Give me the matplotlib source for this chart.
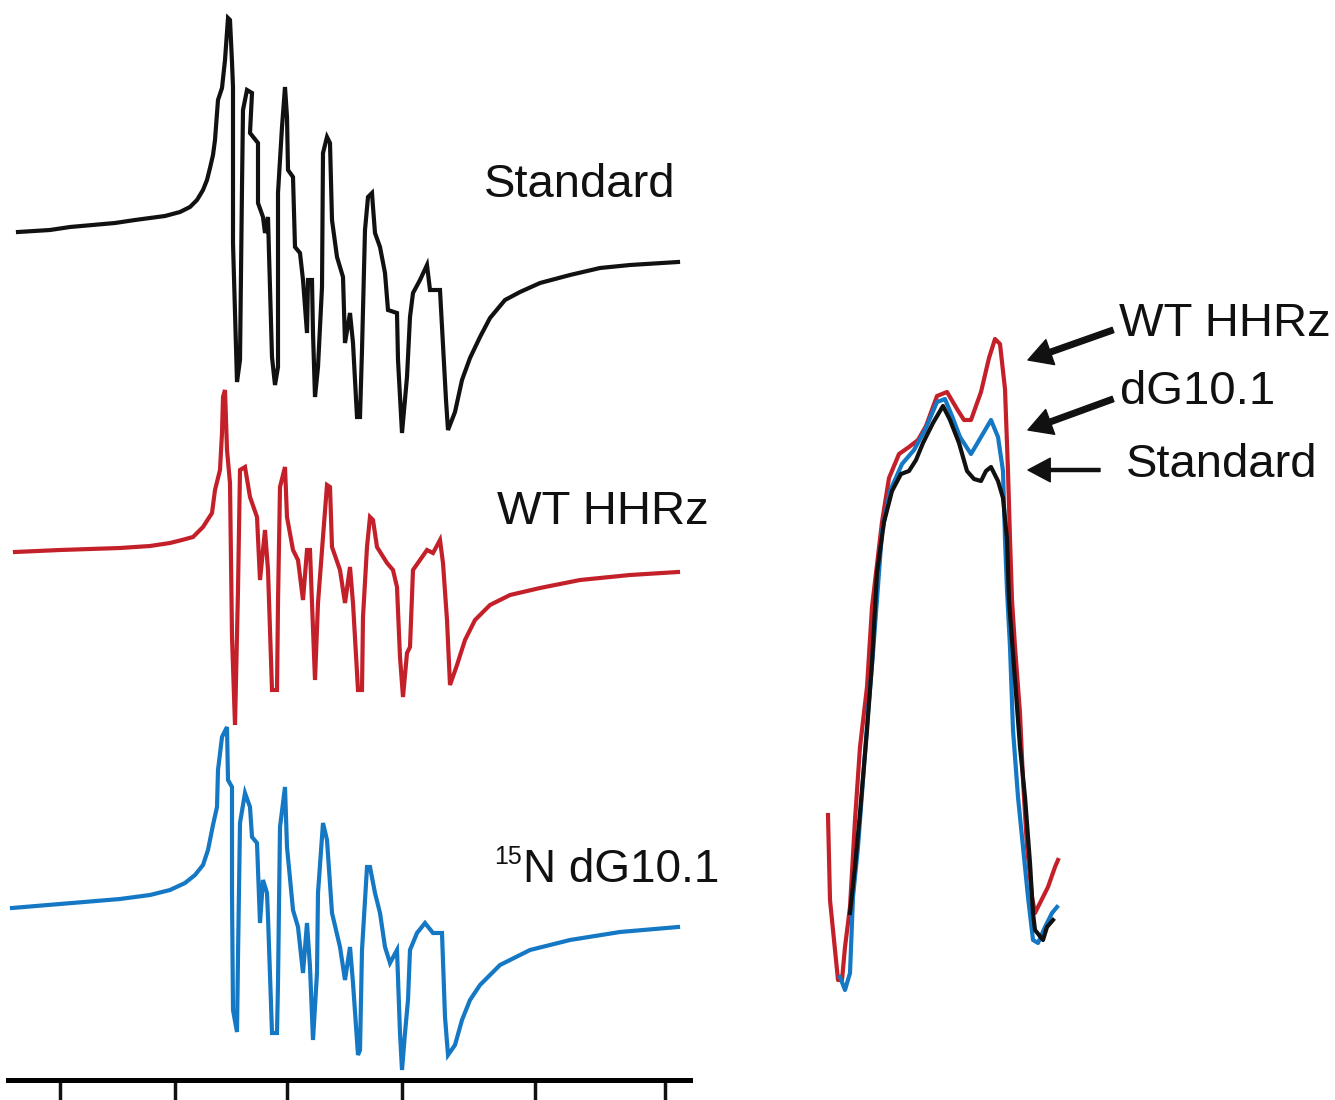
import matplotlib.pyplot as plt

plt.rcParams['font.family'] = ['Liberation Sans', 'DejaVu Sans']

BLACK = '#111111'
RED = '#c4202a'
BLUE = '#1478c4'

# field ticks along the bottom axis (no labels in the original)
field_ticks = [60, 175, 287, 402, 535, 665]

# left panel: stacked spectra (screen units, larger = lower)
std_x = [18, 50, 70, 115, 135, 165, 180, 190, 197, 203, 207, 210, 213, 215, 218, 222, 225, 228,
         230, 232, 233, 233, 237, 240, 242, 243, 247, 252, 250, 258, 258, 263, 265, 268, 269, 272,
         275, 278, 278, 282, 285, 287, 288, 293, 295, 300, 303, 307, 308, 312, 313, 315, 318, 322,
         323, 327, 330, 332, 337, 343, 345, 350, 353, 357, 360, 362, 365, 368, 372, 373, 375, 380,
         385, 388, 397, 398, 402, 407, 410, 413, 420, 427, 430, 440, 443, 446, 448, 455, 462, 470,
         480, 490, 505, 520, 540, 570, 600, 630, 678]
std_y = [232, 230, 227, 223, 220, 216, 212, 207, 200, 190, 180, 168, 155, 140, 100, 88, 60, 18,
         20, 62, 87, 243, 382, 360, 187, 110, 90, 93, 133, 143, 203, 217, 233, 217, 253, 357,
         385, 367, 193, 127, 87, 117, 170, 177, 247, 253, 280, 333, 280, 280, 333, 397, 367, 287,
         153, 137, 143, 220, 257, 277, 343, 313, 343, 417, 417, 350, 230, 197, 193, 207, 233, 247,
         273, 310, 313, 360, 433, 377, 317, 293, 280, 265, 290, 290, 345, 400, 430, 412, 380, 358,
         337, 318, 300, 292, 283, 275, 268, 265, 262]

wt_x = [15, 60, 120, 150, 170, 182, 193, 203, 212, 215, 220, 222, 223, 225, 227, 230, 232, 235,
        238, 240, 245, 250, 257, 260, 265, 268, 272, 277, 278, 280, 285, 287, 293, 298, 303, 307,
        310, 312, 315, 318, 323, 327, 330, 332, 340, 345, 350, 353, 358, 362, 363, 367, 370, 373,
        377, 387, 393, 397, 400, 403, 407, 410, 413, 420, 427, 433, 440, 443, 447, 450, 457, 465,
        475, 490, 510, 540, 580, 630, 678]
wt_y = [552, 550, 548, 546, 543, 540, 537, 527, 513, 490, 470, 433, 397, 390, 450, 483, 637, 725,
        590, 470, 467, 497, 517, 580, 530, 570, 690, 690, 603, 487, 467, 517, 550, 560, 600, 550,
        550, 603, 680, 603, 537, 485, 487, 547, 570, 603, 567, 603, 690, 690, 617, 547, 517, 520,
        547, 563, 570, 587, 657, 697, 653, 647, 570, 560, 550, 553, 540, 563, 620, 685, 665, 640,
        620, 605, 595, 588, 580, 575, 572]

dg_x = [12, 60, 120, 150, 170, 185, 195, 203, 208, 213, 217, 218, 222, 227, 228, 232, 232, 233,
        237, 238, 240, 245, 250, 252, 257, 260, 263, 267, 268, 272, 277, 278, 280, 285, 287, 293,
        298, 303, 307, 310, 313, 317, 318, 323, 327, 332, 340, 345, 350, 353, 358, 360, 362, 367,
        370, 375, 380, 385, 390, 397, 400, 402, 405, 408, 410, 417, 425, 433, 442, 445, 448, 455,
        462, 470, 480, 500, 530, 570, 620, 678]
dg_y = [908, 904, 899, 895, 890, 883, 875, 865, 850, 825, 807, 770, 737, 727, 780, 787, 893, 1010,
        1032, 957, 823, 793, 807, 837, 843, 923, 880, 893, 917, 1033, 1033, 983, 827, 787, 847, 910,
        927, 973, 923, 967, 1040, 973, 893, 823, 840, 913, 947, 980, 947, 983, 1055, 1050, 950, 867,
        867, 893, 913, 947, 963, 950, 1033, 1070, 1033, 1000, 950, 933, 923, 933, 933, 1017, 1055, 1045,
        1020, 1000, 985, 965, 950, 940, 932, 927]

# right panel: overlaid traces
r_wt_x = [828, 830, 833, 838, 842, 845, 850, 855, 860, 867, 872, 882, 889, 899, 909, 918, 926, 937,
          947, 957, 964, 971, 981, 989, 995, 1000, 1005, 1008, 1010, 1012, 1015, 1020, 1023,
          1027, 1032, 1035, 1040, 1048, 1055, 1058]
r_wt_y = [815, 900, 930, 980, 980, 947, 907, 820, 747, 687, 607, 522, 478, 454, 447, 440, 426, 396,
          392, 409, 420, 420, 392, 358, 339, 344, 389, 471, 539, 600, 647, 713, 780,
          847, 897, 913, 903, 887, 867, 860]

r_dg_x = [840, 845, 850, 853, 858, 863, 868, 873, 882, 890, 902, 914, 925, 937, 945, 952, 960, 971,
          981, 991, 998, 1003, 1005, 1007, 1010, 1013, 1018, 1023, 1028, 1033, 1038, 1045, 1052, 1057]
r_dg_y = [977, 990, 973, 897, 847, 780, 713, 653, 532, 491, 464, 450, 430, 402, 399, 416, 437, 454,
          437, 420, 437, 471, 539, 590, 647, 730, 797, 847, 897, 940, 943, 927, 913, 907]

r_std_x = [850, 855, 860, 867, 872, 877, 884, 892, 901, 909, 916, 923, 933, 943, 950, 959, 967, 974,
           981, 986, 991, 998, 1003, 1007, 1009, 1015, 1020, 1025, 1030, 1033, 1035, 1043,
           1047, 1053]
r_std_y = [913, 867, 813, 730, 663, 573, 522, 491, 474, 471, 460, 443, 423, 406, 420, 443, 471, 479,
           481, 471, 467, 481, 498, 539, 600, 680, 747, 797, 863, 913, 930, 940,
           927, 920]

fig = plt.figure(figsize=(13.35, 11), dpi=100)

# left panel with the field axis along the bottom
ax = fig.add_axes([8 / 1335, 20 / 1100, 682 / 1335, 1080 / 1100])
ax.set_xlim(8, 690)
ax.set_ylim(1080, 0)
ax.patch.set_alpha(0)
for s in ['top', 'left', 'right']:
    ax.spines[s].set_visible(False)
ax.spines['bottom'].set_linewidth(3.6)
ax.set_yticks([])
ax.set_xticks(field_ticks)
ax.set_xticklabels([])
ax.tick_params(axis='x', direction='out', length=18, width=2.5, color=BLACK)

ax.plot(std_x, std_y, color=BLACK, lw=3.0, solid_joinstyle='miter')
ax.plot(wt_x, wt_y, color=RED, lw=3.0, solid_joinstyle='miter')
ax.plot(dg_x, dg_y, color=BLUE, lw=3.0, solid_joinstyle='miter')

ax.text(580, 185, 'Standard', fontsize=34, ha='center', va='center', color=BLACK)
ax.text(603, 512, 'WT HHRz', fontsize=34, ha='center', va='center', color=BLACK)
ax.text(494, 857, '15', fontsize=18, ha='left', va='center', color=BLACK)
ax.text(523, 870, 'N dG10.1', fontsize=33, ha='left', va='center', color=BLACK)

# right panel: overlay with arrows
axr = fig.add_axes([0, 0, 1, 1])
axr.set_xlim(0, 1335)
axr.set_ylim(1100, 0)
axr.axis('off')
axr.patch.set_alpha(0)

axr.plot(r_wt_x, r_wt_y, color=RED, lw=3.0)
axr.plot(r_dg_x, r_dg_y, color=BLUE, lw=3.0)
axr.plot(r_std_x, r_std_y, color=BLACK, lw=3.0)

axr.annotate('', xy=(1028, 360), xytext=(1113, 330),
             arrowprops=dict(facecolor=BLACK, edgecolor=BLACK, width=4, headwidth=19,
                             headlength=17, shrink=0))
axr.annotate('', xy=(1028, 430), xytext=(1113, 399),
             arrowprops=dict(facecolor=BLACK, edgecolor=BLACK, width=4, headwidth=19,
                             headlength=17, shrink=0))
axr.annotate('', xy=(1028, 470), xytext=(1100, 470),
             arrowprops=dict(facecolor=BLACK, edgecolor=BLACK, width=2.2, headwidth=17,
                             headlength=16, shrink=0))

axr.text(1119, 324, 'WT HHRz', fontsize=34, ha='left', va='center', color=BLACK)
axr.text(1120, 392, 'dG10.1', fontsize=34, ha='left', va='center', color=BLACK)
axr.text(1126, 465, 'Standard', fontsize=34, ha='left', va='center', color=BLACK)

fig.savefig('out.png', dpi=100)
